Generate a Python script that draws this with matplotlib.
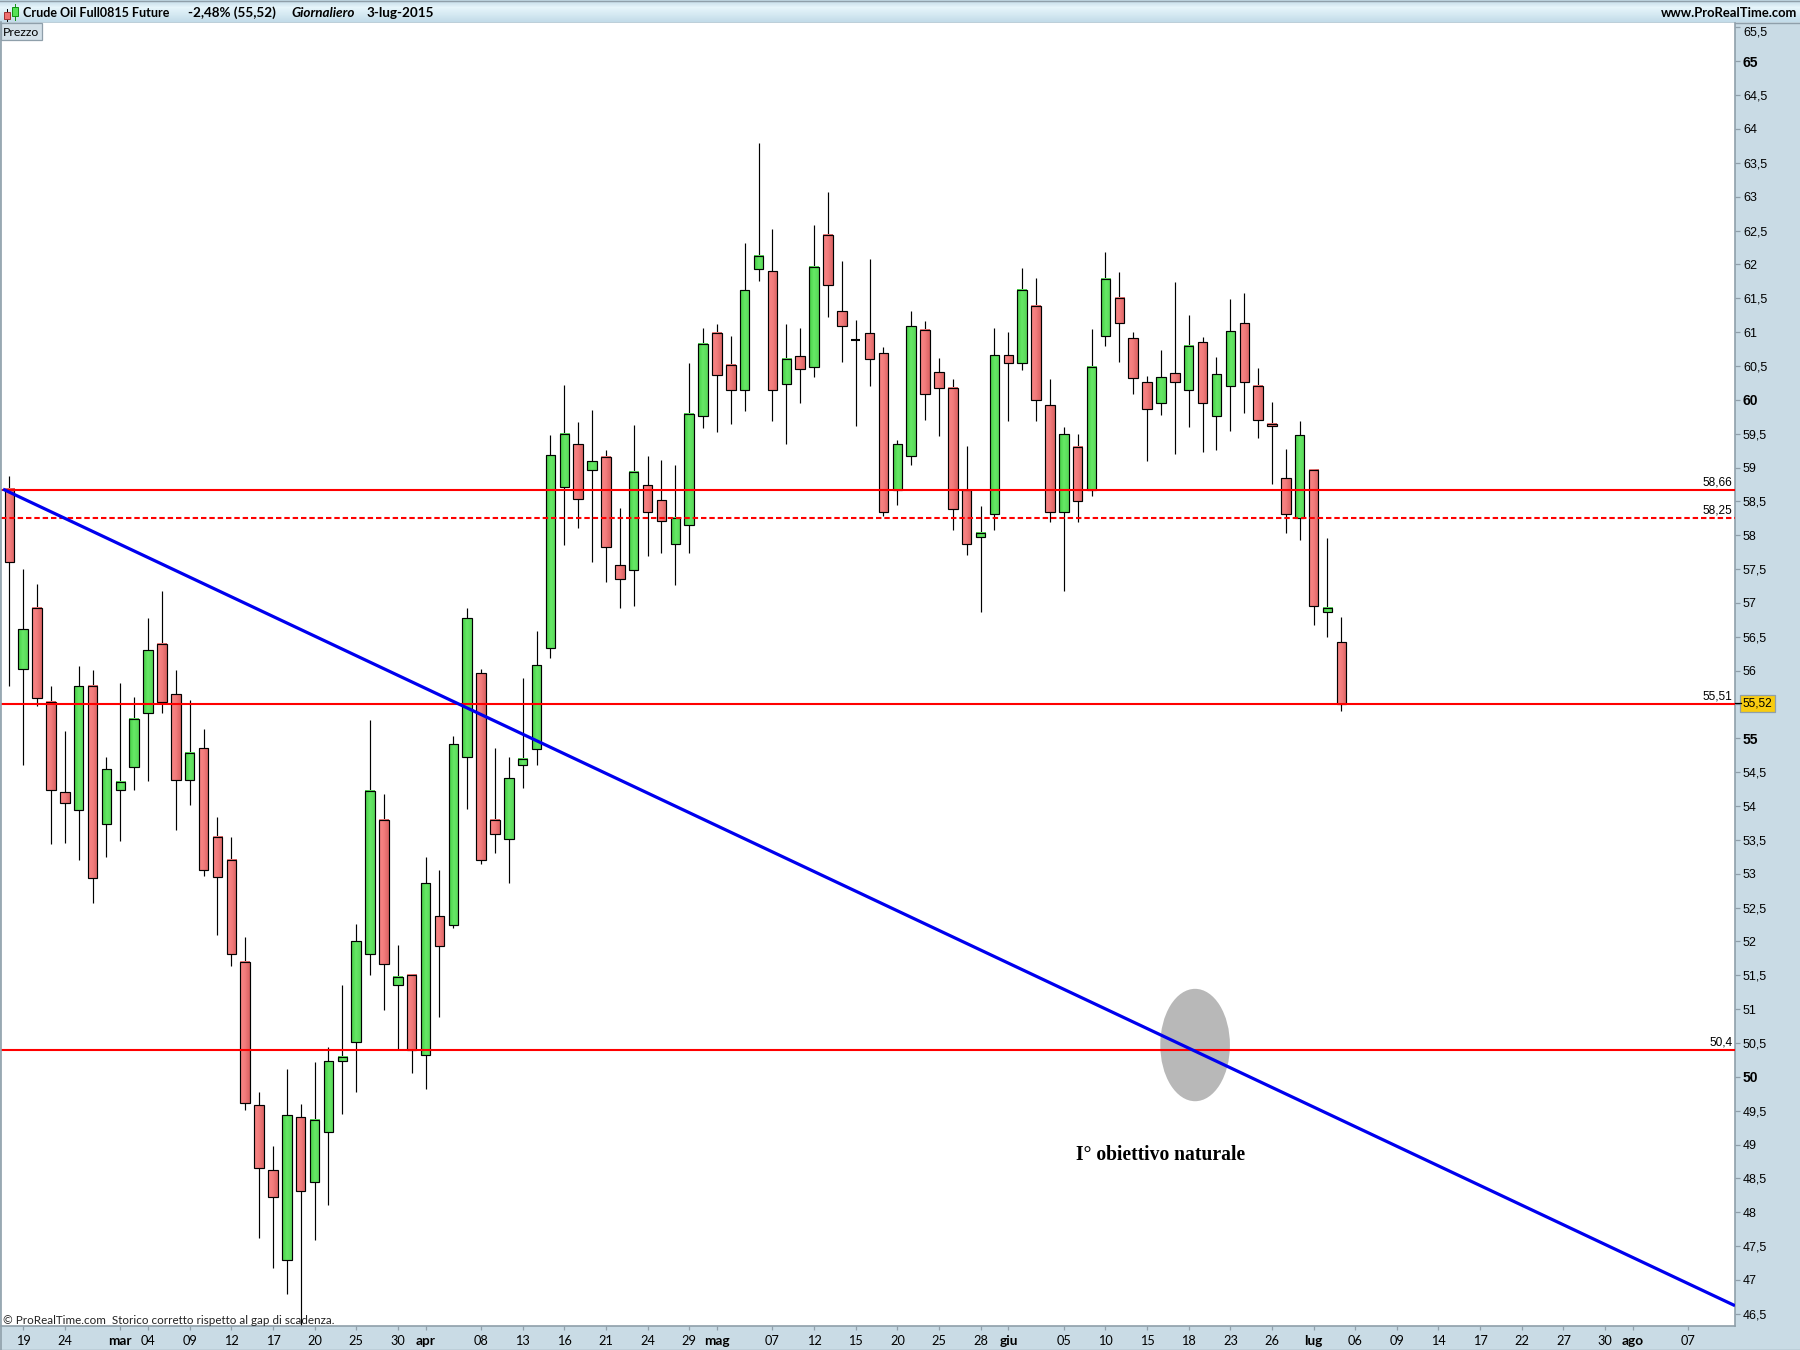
import matplotlib
matplotlib.use("Agg")
import matplotlib.pyplot as plt
import matplotlib.transforms as mtrans
import numpy as np
from matplotlib.colors import LinearSegmentedColormap
from matplotlib.patches import Ellipse, Rectangle

# Candles, one value per day
opens = [58.69, 56.03, 56.92, 55.53, 54.20, 53.94, 55.78, 53.74, 54.23, 54.57,
         55.38, 56.40, 55.66, 54.38, 54.85, 53.55, 53.21, 51.70, 49.58, 48.62,
         47.29, 49.40, 48.44, 49.19, 50.24, 50.51, 51.81, 53.80, 51.35, 51.51,
         50.33, 52.37, 52.25, 54.73, 55.97, 53.79, 53.52, 54.60, 54.84, 56.34,
         58.71, 59.34, 58.96, 59.15, 57.56, 57.48, 58.74, 58.52, 57.87, 58.15,
         59.76, 60.99, 60.51, 60.15, 61.93, 61.90, 60.23, 60.64, 60.48, 62.44,
         61.31, 60.88, 60.98, 60.69, 58.67, 59.17, 61.03, 60.41, 60.18, 58.67,
         57.98, 58.32, 60.66, 60.54, 61.38, 59.93, 58.35, 59.31, 58.67, 60.94,
         61.50, 60.91, 60.26, 59.96, 60.39, 60.14, 60.86, 59.76, 60.21, 61.14,
         60.21, 59.65, 58.84, 58.26, 58.97, 56.86, 56.42]
highs = [58.87, 57.50, 57.28, 55.77, 55.11, 56.07, 56.01, 54.72, 55.82, 55.61,
         56.78, 57.18, 56.01, 55.57, 55.14, 53.84, 53.54, 52.06, 49.77, 48.98,
         50.11, 49.60, 50.22, 50.44, 51.35, 52.26, 55.27, 54.18, 51.95, 51.51,
         53.25, 53.05, 55.03, 56.92, 56.02, 54.86, 54.72, 55.89, 56.59, 59.48,
         60.22, 59.67, 59.85, 59.26, 58.40, 59.63, 59.17, 59.11, 59.04, 60.54,
         61.06, 61.12, 60.94, 62.32, 63.79, 62.52, 61.12, 61.06, 62.58, 63.07,
         62.05, 61.18, 62.08, 60.78, 59.41, 61.31, 61.16, 60.62, 60.31, 59.32,
         58.43, 61.06, 61.00, 61.95, 61.80, 60.31, 59.60, 59.49, 61.05, 62.18,
         61.89, 61.00, 60.35, 60.74, 61.74, 61.25, 60.93, 60.63, 61.49, 61.58,
         60.47, 59.97, 59.27, 59.69, 58.97, 57.96, 56.79]
lows = [55.78, 54.60, 55.48, 53.44, 53.46, 53.21, 52.57, 53.24, 53.49, 54.23,
        54.37, 55.38, 53.65, 54.02, 52.97, 52.10, 51.63, 49.51, 47.62, 47.18,
        46.80, 46.32, 47.59, 48.11, 49.45, 49.78, 51.51, 50.99, 50.41, 50.06,
        49.82, 50.89, 52.20, 53.95, 53.15, 53.30, 52.87, 54.26, 54.61, 56.18,
        57.86, 58.10, 57.61, 57.31, 56.93, 56.96, 57.70, 57.73, 57.27, 57.74,
        59.59, 59.53, 59.65, 59.84, 61.75, 59.69, 59.34, 59.96, 60.33, 61.23,
        60.56, 59.62, 60.21, 58.28, 58.45, 59.04, 59.70, 59.46, 58.07, 57.71,
        56.86, 58.07, 59.68, 60.44, 59.69, 58.19, 57.18, 58.20, 58.58, 60.80,
        60.56, 60.09, 59.09, 59.78, 59.20, 59.60, 59.23, 59.26, 59.54, 59.80,
        59.43, 58.76, 58.04, 57.93, 56.68, 56.49, 55.41]
closes = [57.60, 56.61, 55.59, 54.23, 54.05, 55.77, 52.94, 54.54, 54.36, 55.29,
          56.31, 55.53, 54.39, 54.78, 53.06, 52.95, 51.82, 49.61, 48.65, 48.23,
          49.43, 48.31, 49.36, 50.23, 50.30, 52.00, 54.22, 51.66, 51.47, 50.40,
          52.87, 51.93, 54.92, 56.77, 53.21, 53.58, 54.42, 54.70, 56.08, 59.18,
          59.50, 58.53, 59.09, 57.82, 57.36, 58.94, 58.35, 58.21, 58.26, 59.79,
          60.83, 60.36, 60.14, 61.62, 62.13, 60.15, 60.60, 60.46, 61.96, 61.70,
          61.09, 60.88, 60.60, 58.35, 59.34, 61.09, 60.08, 60.18, 58.38, 57.87,
          58.04, 60.66, 60.55, 61.62, 59.99, 58.35, 59.49, 58.50, 60.49, 61.79,
          61.13, 60.32, 59.87, 60.33, 60.27, 60.80, 59.96, 60.38, 61.01, 60.27,
          59.70, 59.62, 58.32, 59.48, 56.96, 56.93, 55.51]

# Date axis: bar position and label, month names in bold
date_pos = [1, 4, 8, 10, 13, 16, 19, 22, 25, 28, 30, 34, 37, 40, 43, 46, 49, 51,
            55, 58, 61, 64, 67, 70, 72, 76, 79, 82, 85, 88, 91, 94, 97, 100, 103,
            106, 109, 112, 115, 117, 121]
date_labels = ["19", "24", "mar", "04", "09", "12", "17", "20", "25", "30", "apr",
               "08", "13", "16", "21", "24", "29", "mag", "07", "12", "15", "20",
               "25", "28", "giu", "05", "10", "15", "18", "23", "26", "lug", "06",
               "09", "14", "17", "22", "27", "30", "ago", "07"]
month_names = ["mar", "apr", "mag", "giu", "lug", "ago"]

price_ticks = [46.5 + 0.5 * n for n in range(39)]

# Horizontal levels drawn on the chart
solid_levels = [58.67, 55.51, 50.40]
solid_names = ["58,66", "55,51", "50,4"]
dash_level = 58.25
dash_name = "58,25"

trend_x = [-0.45, 124.37]
trend_y = [58.68, 46.62]

last_price = 55.52

PANEL = "#c9dbe5"
BORDER = "#8f9faa"
SANS = "Liberation Sans"
HAND = "Lato"

fig = plt.figure(figsize=(18, 13.5), dpi=100, facecolor=PANEL)

# Background axes in pixels for the window frame
bg = fig.add_axes([0, 0, 1, 1])
bg.set_xlim(0, 1800)
bg.set_ylim(1350, 0)
bg.axis("off")

head = np.linspace(0, 1, 22).reshape(-1, 1)
head_cmap = LinearSegmentedColormap.from_list("head", ["#c4dbe8", "#e6f5fb", "#d5e9f2", "#c3dce9"])
bg.imshow(head, extent=[0, 1800, 22, 0], cmap=head_cmap, aspect="auto", zorder=1)
bg.set_xlim(0, 1800)
bg.set_ylim(1350, 0)
bg.plot([0, 1800], [22.5, 22.5], color=BORDER, lw=1.0, zorder=2)
bg.plot([0, 1800], [0.5, 0.5], color=BORDER, lw=1.0, zorder=2)
bg.plot([0, 1800], [1349.5, 1349.5], color=BORDER, lw=1.0, zorder=2)

# small candle icon in the title bar
bg.plot([6.5, 6.5], [9, 21], color="black", lw=0.7, zorder=3)
bg.add_patch(Rectangle((3.5, 12), 6, 7, fc="#ee7070", ec="#a03030", lw=0.7, zorder=4))
bg.plot([14.5, 14.5], [4, 20], color="#109010", lw=0.7, zorder=3)
bg.add_patch(Rectangle((11.5, 7), 6, 9, fc="#55e055", ec="#109010", lw=0.7, zorder=4))

bg.text(23, 13, "Crude Oil Full0815 Future", family=HAND, weight="bold", fontsize=9.0, va="center", zorder=5)
bg.text(188, 13, "-2,48% (55,52)", family=HAND, weight="bold", fontsize=9.7, va="center", zorder=5)
bg.text(291, 13, "Giornaliero", family=HAND, weight="bold", style="italic", fontsize=9.7, va="center", zorder=5)
bg.text(367, 13, "3-lug-2015", family=HAND, weight="bold", fontsize=9.7, va="center", zorder=5)
bg.text(1797, 13, "www.ProRealTime.com", family=HAND, weight="bold", fontsize=9.4, va="center", ha="right", zorder=5)

# Price chart
ax = fig.add_axes([1 / 1800, (1350 - 1326) / 1350, 1734 / 1800, (1326 - 22.7) / 1350])
ax.set_facecolor("white")

green_cmap = LinearSegmentedColormap.from_list("g", ["#48d048", "#66e866", "#58d858"])
red_cmap = LinearSegmentedColormap.from_list("r", ["#f98585", "#f27c7c", "#dc6464"])
grad = np.linspace(0, 1, 12).reshape(1, -1)

days = np.arange(len(closes))
width = 0.68

# Levels and ellipse
ell = Ellipse((85.46, 50.47), 5.02, 1.66, fc="#b8b8b8", ec="none", zorder=1)
ax.add_patch(ell)

ax.vlines(days, lows, highs, color="black", lw=0.85, zorder=2)

for d in days:
    top = max(opens[d], closes[d])
    bot = min(opens[d], closes[d])
    if top == bot:
        # open and close equal, only a dash
        ax.plot([d - width / 2, d + width / 2], [top, top], color="black", lw=1.5, zorder=3, solid_capstyle="butt")
        continue
    cmap = green_cmap if closes[d] > opens[d] else red_cmap
    ax.imshow(grad, extent=[d - width / 2, d + width / 2, bot, top], cmap=cmap, aspect="auto", zorder=3, interpolation="bilinear")
    ax.add_patch(Rectangle((d - width / 2, bot), width, top - bot, fill=False, ec="black", lw=0.85, zorder=4))

for lev, name in zip(solid_levels, solid_names):
    ax.axhline(lev, color="#ff0000", lw=1.5, zorder=5, solid_capstyle="butt")
    ax.annotate(name, (1, lev), xycoords=("axes fraction", "data"), xytext=(-2, 1.2), textcoords="offset points",
                ha="right", va="bottom", fontsize=8.6, family=SANS, color="black", zorder=7)
ax.axhline(dash_level, color="#ff0000", lw=1.5, zorder=5, dashes=(2.6, 1.4))
ax.annotate(dash_name, (1, dash_level), xycoords=("axes fraction", "data"), xytext=(-2, 1.2), textcoords="offset points",
            ha="right", va="bottom", fontsize=8.6, family=SANS, color="black", zorder=7)

ax.plot(trend_x, trend_y, color="#0000ee", lw=2.3, zorder=6, solid_capstyle="butt")

ax.text(76.9, 48.85, "I° obiettivo naturale", family="Liberation Serif", weight="bold", fontsize=14.1, va="center", ha="left", zorder=7)

ax.set_xlim(-0.598, 124.37)
ax.set_ylim(46.32, 65.57)

for side in ["top", "left"]:
    ax.spines[side].set_visible(False)
for side in ["right", "bottom"]:
    ax.spines[side].set_color(BORDER)
    ax.spines[side].set_linewidth(1.2)

ax.yaxis.tick_right()
ax.set_yticks(price_ticks)
ylabels = []
for p in price_ticks:
    if p == last_price - 0.02:
        # hidden behind the last price tag
        ylabels.append("")
    elif p == int(p):
        ylabels.append(str(int(p)))
    else:
        ylabels.append(str(p).replace(".", ","))
ax.set_yticklabels(ylabels, family=SANS, fontsize=9.0)
for lab, p in zip(ax.get_yticklabels(), price_ticks):
    if p % 5 == 0:
        lab.set_fontweight("bold")
        lab.set_fontsize(10)
ax.tick_params(axis="y", length=3.5, width=0.9, color=BORDER, pad=2.2, labelcolor="black")

# the top label sits a bit lower so it stays under the title bar
top_lab = ax.get_yticklabels()[-1]
top_lab.set_transform(top_lab.get_transform() + mtrans.ScaledTranslation(0, -4 / 100, fig.dpi_scale_trans))

ax.set_xticks(date_pos)
ax.set_xticklabels(date_labels, family=HAND, fontsize=9.2)
for lab, name in zip(ax.get_xticklabels(), date_labels):
    if name in month_names:
        lab.set_fontweight("bold")
        lab.set_fontsize(9.8)
ax.tick_params(axis="x", length=3, width=0.9, color=BORDER, pad=3.5, labelcolor="black")

# Last price tag on the scale
ax.annotate("55,52", (1, last_price), xycoords=("axes fraction", "data"), xytext=(5.6, 0), textcoords="offset points",
            ha="left", va="center", fontsize=8.6, family=SANS, annotation_clip=False, zorder=10,
            bbox=dict(boxstyle="square,pad=0.2", fc="#f8cc10", ec=BORDER, lw=0.9))
ax.plot([1.0, 1.0035], [(last_price - 46.32) / (65.57 - 46.32)] * 2, transform=ax.transAxes, color="black", lw=0.9, clip_on=False, zorder=10)

# Overlay boxes and notes in pixels
over = fig.add_axes([0, 0, 1, 1], facecolor="none")
over.set_xlim(0, 1800)
over.set_ylim(1350, 0)
over.axis("off")
over.add_patch(Rectangle((0.5, 23), 41, 17, fc="#d3e0e8", ec=BORDER, lw=0.9))
over.text(3, 32, "Prezzo", family=HAND, fontsize=8.8, va="center")
over.plot([0.7, 0.7], [22, 1350], color=BORDER, lw=1.2)
over.text(3, 1320, "© ProRealTime.com  Storico corretto rispetto al gap di scadenza.", family=HAND, fontsize=8.35, va="center", color="#222222")

fig.savefig("out.png", dpi=100, facecolor=PANEL)
